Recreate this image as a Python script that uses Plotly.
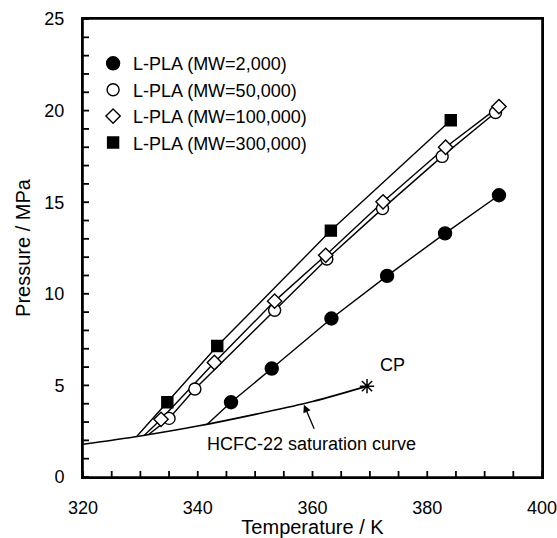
import plotly.graph_objects as go

FONT = "Liberation Sans, Arial, sans-serif"

# ---- data ----
names = ["L-PLA (MW=2,000)", "L-PLA (MW=50,000)", "L-PLA (MW=100,000)", "L-PLA (MW=300,000)"]

t_2k = [345.8, 352.9, 363.3, 373.0, 383.1, 392.5]
p_2k = [4.08, 5.92, 8.65, 10.98, 13.3, 15.38]

t_50k = [335.0, 339.5, 353.4, 362.5, 372.2, 382.6, 391.9]
p_50k = [3.2, 4.8, 9.1, 11.9, 14.65, 17.5, 19.9]

t_100k = [333.6, 342.9, 353.4, 362.3, 372.3, 383.2, 392.5]
p_100k = [3.15, 6.25, 9.6, 12.1, 15.02, 18.0, 20.22]

t_300k = [334.7, 343.4, 363.2, 384.1]
p_300k = [4.08, 7.15, 13.45, 19.47]

# starting points of the fitted lines on the saturation curve
start_t = [341.6, 331.5, 330.7, 329.4]
start_p = [2.86, 2.33, 2.28, 2.22]

# HCFC-22 saturation curve
sat_t = [320.0, 330.0, 340.0, 350.0, 360.0, 369.5]
sat_p = [1.79, 2.24, 2.78, 3.42, 4.12, 4.96]
cp_t = [369.5]
cp_p = [4.96]

x_ticks = [320, 340, 360, 380, 400]
y_ticks = [0, 5, 10, 15, 20, 25]
x_minor = [325, 330, 335, 345, 350, 355, 365, 370, 375, 385, 390, 395]
y_minor = [v for v in range(0, 26) if v % 5 != 0]

series = [
    (t_2k, p_2k, "circle", 13, "black"),
    (t_50k, p_50k, "circle", 12, "white"),
    (t_100k, p_100k, "diamond", 11, "white"),
    (t_300k, p_300k, "square", 11, "black"),
]

fig = go.Figure()

# fitted lines
for i, (tx, py, sym, sz, fc) in enumerate(series):
    fig.add_trace(go.Scatter(
        x=[start_t[i]] + tx, y=[start_p[i]] + py, mode="lines",
        line=dict(color="black", width=1.4), showlegend=False, hoverinfo="skip"))

# saturation curve
fig.add_trace(go.Scatter(x=sat_t, y=sat_p, mode="lines", line=dict(color="black", width=1.6, shape="spline"),
                         showlegend=False))
fig.add_trace(go.Scatter(x=cp_t, y=cp_p, mode="markers",
                         marker=dict(symbol="asterisk-open", size=12, color="black",
                                     line=dict(color="black", width=1.5)),
                         showlegend=False))

# markers
for i, (tx, py, sym, sz, fc) in enumerate(series):
    fig.add_trace(go.Scatter(
        x=tx, y=py, mode="markers", name=names[i],
        marker=dict(symbol=sym, size=sz, color=fc, line=dict(color="black", width=1.4))))

fig.add_annotation(x=374.0, y=6.1, text="CP", showarrow=False, font=dict(size=18, family=FONT, color="black"))
fig.add_annotation(x=359.8, y=1.79, text="HCFC-22 saturation curve", showarrow=False,
                   font=dict(size=18, family=FONT, color="black"))
fig.add_annotation(x=358.5, y=3.95, ax=360.4, ay=2.55, axref="x", ayref="y", xref="x", yref="y",
                   text="", showarrow=True, arrowhead=2, arrowsize=1.2, arrowwidth=1.3, arrowcolor="black",
                   standoff=0)

# tick marks placed on the axes' own scales (major ticks cross the axis, minor ticks point inward)
tick_line = dict(color="black", width=1.8)
for v in x_ticks:
    fig.add_shape(type="line", xref="x", x0=v, x1=v, yref="y", ysizemode="pixel", yanchor=0,
                  y0=-6, y1=6, line=tick_line)
for v in x_minor:
    fig.add_shape(type="line", xref="x", x0=v, x1=v, yref="y", ysizemode="pixel", yanchor=0,
                  y0=0, y1=6, line=tick_line)
for v in y_ticks:
    fig.add_shape(type="line", yref="y", y0=v, y1=v, xref="x", xsizemode="pixel", xanchor=320,
                  x0=-6, x1=6, line=tick_line)
for v in y_minor:
    fig.add_shape(type="line", yref="y", y0=v, y1=v, xref="x", xsizemode="pixel", xanchor=320,
                  x0=0, x1=6, line=tick_line)
# plot frame
fig.add_shape(type="rect", xref="x domain", yref="y domain", x0=0, x1=1, y0=0, y1=1,
              line=dict(color="black", width=1.6), fillcolor="rgba(0,0,0,0)")

label_axis = dict(showgrid=False, zeroline=False, showline=True, linecolor="black", linewidth=2,
                  ticks="outside", tickcolor="rgba(0,0,0,0)", tickwidth=1, showticklabels=True,
                  tickfont=dict(size=18, family=FONT, color="black"), automargin=False,
                  ticklabeloverflow="allow",
                  title_font=dict(size=20, family=FONT, color="black"), mirror=True)

fig.update_layout(
    template="none",
    width=557, height=538,
    margin=dict(l=83, r=15, t=19, b=61),
    paper_bgcolor="white", plot_bgcolor="white",
    font=dict(family=FONT, color="black"),
    xaxis=dict(range=[320, 400], tickmode="array", tickvals=x_ticks, ticklen=13,
               title_text="Temperature / K", title_standoff=3, **label_axis),
    yaxis=dict(range=[0, 25], tickmode="array", tickvals=y_ticks, ticklen=13,
               title_text="Pressure / MPa", title_standoff=8, **label_axis),
    legend=dict(x=0.022, y=0.943, xanchor="left", yanchor="top", bgcolor="rgba(0,0,0,0)",
                font=dict(size=18, family=FONT, color="black"), itemwidth=30),
)

fig.write_html("out.html", post_script="document.body.style.margin='0';",
               config={"displayModeBar": False})
